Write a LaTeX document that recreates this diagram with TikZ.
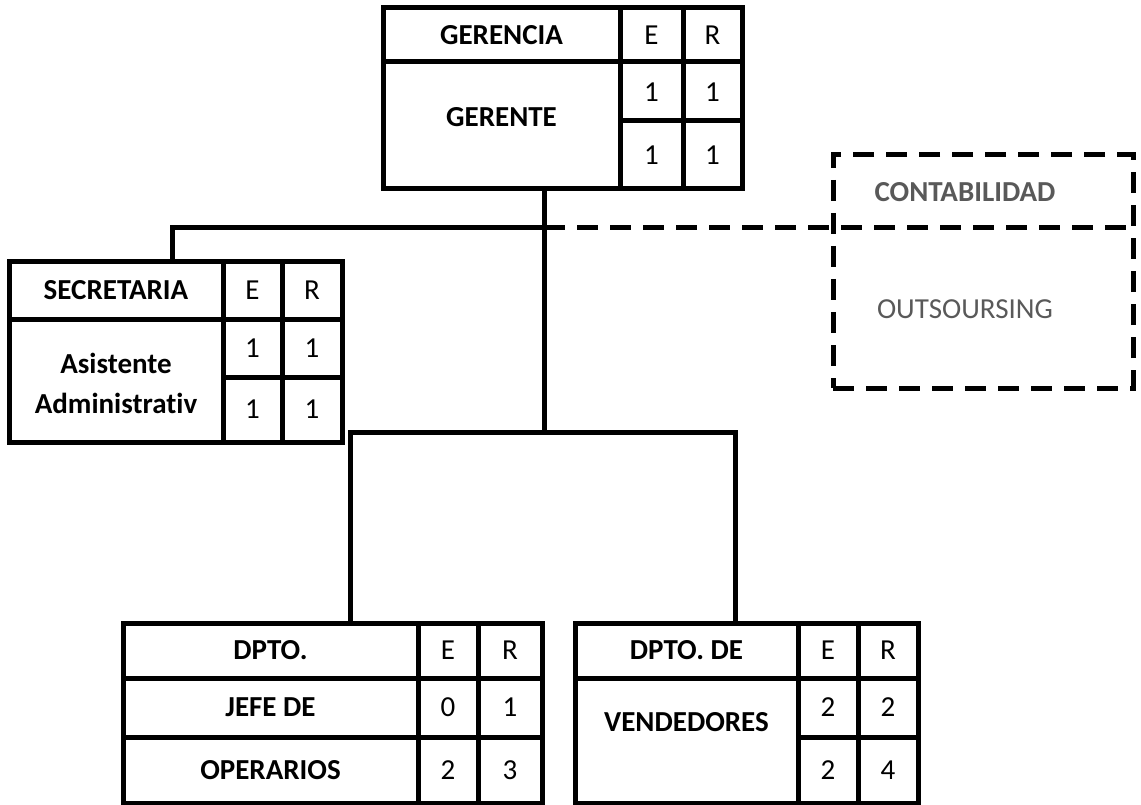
\documentclass[tikz,border=0pt]{standalone}
\usepackage{fontspec}
\setmainfont{Carlito}[Ligatures=NoCommon]
\definecolor{txtgray}{HTML}{595959}
\begin{document}
\begin{tikzpicture}[x=1pt,y=-1pt,line width=5pt,
  box/.style={draw,line width=5pt,inner sep=0pt,outer sep=0pt},
  lbl/.style={font=\fontsize{29}{31}\selectfont\bfseries,inner sep=0pt},
  num/.style={font=\fontsize{29}{31}\selectfont,inner sep=0pt},
  dsh/.style={dash pattern=on 21pt off 12pt,line width=5pt},
  gry/.style={text=txtgray}]
\useasboundingbox (0,0) rectangle (1141,805);

% GERENCIA table
\node[box,minimum width=359pt,minimum height=181pt] (ger) at (562.5,98.5) {};
\draw (620,8) -- (620,189) (683,8) -- (683,189) (383,62) -- (742,62) (620,121) -- (742,121);
\node[lbl] (gerT) at (501.5,35) {GERENCIA};
\node[num] (gerE) at (651.5,35) {E};
\node[num] (gerR) at (712.5,35) {R};
\node[lbl] (gerN) at (501.5,117) {GERENTE};
\node[num] (ger11) at (651.5,92) {1};
\node[num] (ger12) at (712.5,92) {1};
\node[num] (ger21) at (651.5,155) {1};
\node[num] (ger22) at (712.5,155) {1};

% SECRETARIA table
\node[box,minimum width=333pt,minimum height=180pt] (sec) at (175.5,352) {};
\draw (223,262) -- (223,442) (282,262) -- (282,442) (9,319) -- (342,319) (223,377) -- (342,377);
\node[lbl] (secT) at (116,290.5) {SECRETARIA};
\node[num] (secE) at (252.5,290.5) {E};
\node[num] (secR) at (312,290.5) {R};
\node[lbl] (secN1) at (116,363) {Asistente};
\node[lbl] (secN2) at (116,403) {Administrativ};
\node[num] (sec11) at (252.5,348) {1};
\node[num] (sec12) at (312,348) {1};
\node[num] (sec21) at (252.5,409) {1};
\node[num] (sec22) at (312,409) {1};

% DPTO. table
\node[box,minimum width=419pt,minimum height=180pt] (dpto) at (332.5,713) {};
\draw (418,623) -- (418,803) (478,623) -- (478,803) (123,678) -- (542,678) (123,737) -- (542,737);
\node[lbl] (dptoT) at (270.5,650.5) {DPTO.};
\node[num] (dptoE) at (448,650.5) {E};
\node[num] (dptoR) at (510,650.5) {R};
\node[lbl] (dptoN1) at (270.5,707.5) {JEFE DE};
\node[num] (dpto11) at (448,707.5) {0};
\node[num] (dpto12) at (510,707.5) {1};
\node[lbl] (dptoN2) at (270.5,770) {OPERARIOS};
\node[num] (dpto21) at (448,770) {2};
\node[num] (dpto22) at (510,770) {3};

% VENDEDORES table
\node[box,minimum width=343pt,minimum height=180pt] (vend) at (746.5,713) {};
\draw (798,623) -- (798,803) (858,623) -- (858,803) (575,678) -- (918,678) (798,737) -- (918,737);
\node[lbl] (vendT) at (686.5,650.5) {DPTO. DE};
\node[num] (vendE) at (828,650.5) {E};
\node[num] (vendR) at (888,650.5) {R};
\node[lbl] (vendN) at (686.5,722) {VENDEDORES};
\node[num] (vend11) at (828,707.5) {2};
\node[num] (vend12) at (888,707.5) {2};
\node[num] (vend21) at (828,770) {2};
\node[num] (vend22) at (888,770) {4};

% CONTABILIDAD (dashed)
\node[box,dsh,minimum width=300pt,minimum height=233pt] (cont) at (983,271.5) {};
\node[lbl,gry] (contT) at (965,192) {CONTABILIDAD};
\node[num,gry] (contN) at (965,309) {OUTSOURSING};

% connectors
\coordinate (jA) at (544,228);
\coordinate (jB) at (544,432);
\coordinate (jS) at (172,228);
\coordinate (jL) at (350,432);
\coordinate (jR) at (735,432);
\draw (ger.south -| jA) -- (jB);
\draw (jA) -- (jS) -- (sec.north -| jS);
\draw (dpto.north -| jL) -- (jL) -- (jR) -- (vend.north -| jR);
\draw[dsh] (jA) -- (cont.east |- jA);
\end{tikzpicture}
\end{document}
